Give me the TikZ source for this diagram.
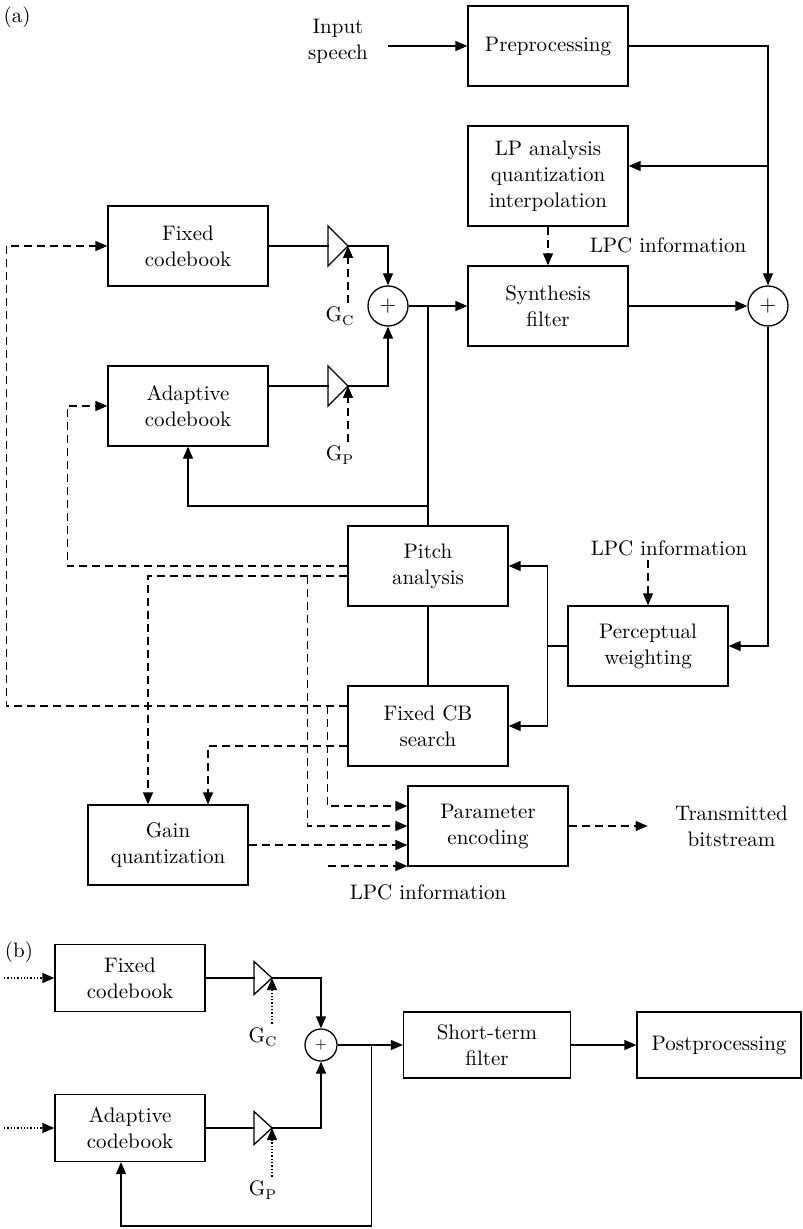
\documentclass[tikz,border=0pt]{standalone}
\usetikzlibrary{arrows.meta,positioning}

\begin{document}
\begin{tikzpicture}[x=0.5pt,y=-0.5pt,
  every node/.style={font=\fontsize{10.5}{13}\selectfont},
  blk/.style={rectangle, draw, line width=0.65pt, minimum width=80pt, minimum height=40pt, align=center, inner sep=2pt},
  blkb/.style={blk, minimum width=75pt, minimum height=33.5pt},
  sumnode/.style={circle, draw, line width=0.65pt, minimum size=20pt, inner sep=0pt},
  lbl/.style={align=center, inner sep=2pt},
  ln/.style={line width=0.65pt},
  arr/.style={ln, -{Triangle[length=6pt,width=5pt]}},
  darr/.style={arr, dash pattern=on 4pt off 2.5pt},
  dtarr/.style={arr, densely dotted}
]
\useasboundingbox (0,0) rectangle (802,1229);

%% (a) encoder
\node (tagA) at (17,17) {(a)};
\node[blk] (prep) at (548,46) {Preprocessing};
\node[blk, minimum height=50pt] (lpa) at (548,176) {LP analysis\\quantization\\interpolation};
\node[blk] (synth) at (548,306) {Synthesis\\filter};
\node[lbl] (inspeech) at (338,41) {Input\\speech};
\node[lbl] (lpc1) at (668,245) {LPC information};
\node[sumnode] (sumR) at (768,306) {$+$};
\node[sumnode] (sumA) at (388,306) {$+$};
\node[blk] (fcb) at (188,246) {Fixed\\codebook};
\node[blk] (acb) at (188,406) {Adaptive\\codebook};
\node[blk] (pitch) at (428,566) {Pitch\\analysis};
\node[blk] (fcbs) at (428,726) {Fixed CB\\search};
\node[blk] (percep) at (648,646) {Perceptual\\weighting};
\node[lbl] (lpc2) at (669,548) {LPC information};
\node[blk] (gainq) at (168,845) {Gain\\quantization};
\node[blk] (penc) at (488,826) {Parameter\\encoding};
\node[lbl, right=51pt of penc] (tbs) {Transmitted\\bitstream};
\node[lbl] (lpc3) at (428,892) {LPC information};
\node[lbl] (gc) at (340,316) {G$_\mathrm{C}$};
\node[lbl] (gp) at (340,455) {G$_\mathrm{P}$};

% gain amplifiers
\coordinate (ampC) at (348,246);
\coordinate (ampP) at (348,386);
\foreach \a in {ampC,ampP}
  \draw[ln] (\a) -- ++(-20,-20) -- ++(0,40) -- cycle;

% signal path
\draw[arr] ([xshift=8pt]inspeech.east |- prep.west) -- (prep.west);
\draw[arr] (prep.east) -| (sumR.north);
\draw[arr] ([yshift=5pt]lpa.east -| sumR) -- ([yshift=5pt]lpa.east);
\draw[darr] (lpa.south) -- (synth.north);
\draw[arr] (synth.east) -- (sumR.west);
\draw[arr] (sumR.south) |- (percep.east);
\draw[darr] (percep.north |- lpc2.south) -- (percep.north);
\draw[ln] (percep.west) -- ++(-20,0) coordinate (pw);
\draw[arr] (pw) |- (pitch.east);
\draw[arr] (pw) |- (fcbs.east);
\draw[ln] (pitch.south) -- (fcbs.north);

% excitation
\draw[ln] (fcb.east) -- ++(60,0);
\draw[ln] ([yshift=10pt]acb.east) -- ++(60,0);
\draw[arr] (ampC) -| (sumA.north);
\draw[arr] (ampP) -| (sumA.south);
\draw[darr] (gc.north -| ampC) -- (ampC);
\draw[darr] (gp.north -| ampP) -- (ampP);
\draw[arr] (sumA.east) -- (synth.west);
\draw[ln] (sumA.east -| pitch.north) -- (pitch.north);
\coordinate (fb) at (428,506);
\draw[arr] (fb) -| (acb.south);

% control lines
\draw[darr] (pitch.west) -- ++(-280,0) |- (acb.west);
\draw[darr] ([yshift=-5pt]pitch.west) -| ([xshift=-10pt]gainq.north);
\draw[darr] ([yshift=-5pt]pitch.west) ++(-40,0) |- (penc.west);
\draw[darr] ([yshift=10pt]fcbs.west) -- ++(-341,0) |- (fcb.west);
\draw[darr] ([yshift=10pt]fcbs.west) ++(-20,0) |- ([yshift=10pt]penc.west);
\draw[darr] ([yshift=-10pt]fcbs.west) -| ([xshift=20pt]gainq.north);
\draw[darr] (gainq.east) -- (gainq.east -| penc.west);
\coordinate (lpcin) at (328,866);
\draw[darr] (lpcin) -- (lpcin -| penc.west);
\draw[darr] (penc.east) -- ([xshift=-11.5pt]tbs.west);

%% (b) decoder
\node (tagB) at (19,952) {(b)};
\node[blkb] (fcbB) at (130,978) {Fixed\\codebook};
\node[blkb] (acbB) at (130,1128) {Adaptive\\codebook};
\node[sumnode, minimum size=16pt, font=\scriptsize] (sumB) at (321,1045) {$+$};
\node[blkb, minimum width=83.5pt, minimum height=33pt] (stf) at (487,1045) {Short-term\\filter};
\node[blkb, minimum width=82pt, minimum height=33pt] (post) at (719,1045) {Postprocessing};
\node[lbl] (gcb) at (263,1037) {G$_\mathrm{C}$};
\node[lbl] (gpb) at (263,1190) {G$_\mathrm{P}$};

\coordinate (ampCb) at (272,978);
\coordinate (ampPb) at (272,1128);
\foreach \a in {ampCb,ampPb}
  \draw[ln] (\a) -- ++(-18,-16.5) -- ++(0,33) -- cycle;

\coordinate (inC) at (4,978);
\coordinate (inP) at (4,1128);
\draw[dtarr] (inC) -- (fcbB.west);
\draw[dtarr] (inP) -- (acbB.west);
\draw[ln] (fcbB.east) -- ++(49,0);
\draw[ln] (acbB.east) -- ++(49,0);
\draw[arr] (ampCb) -| (sumB.north);
\draw[arr] (ampPb) -| (sumB.south);
\draw[dtarr] (gcb.north -| ampCb) -- (ampCb);
\draw[dtarr] (gpb.north -| ampPb) -- (ampPb);
\draw[arr] (sumB.east) -- (stf.west);
\draw[arr] (stf.east) -- (post.west);
\draw[arr] (sumB.east) ++(34,0) coordinate (jb) -- ++(0,181) -| ([xshift=-4.5pt]acbB.south);
\end{tikzpicture}
\end{document}
